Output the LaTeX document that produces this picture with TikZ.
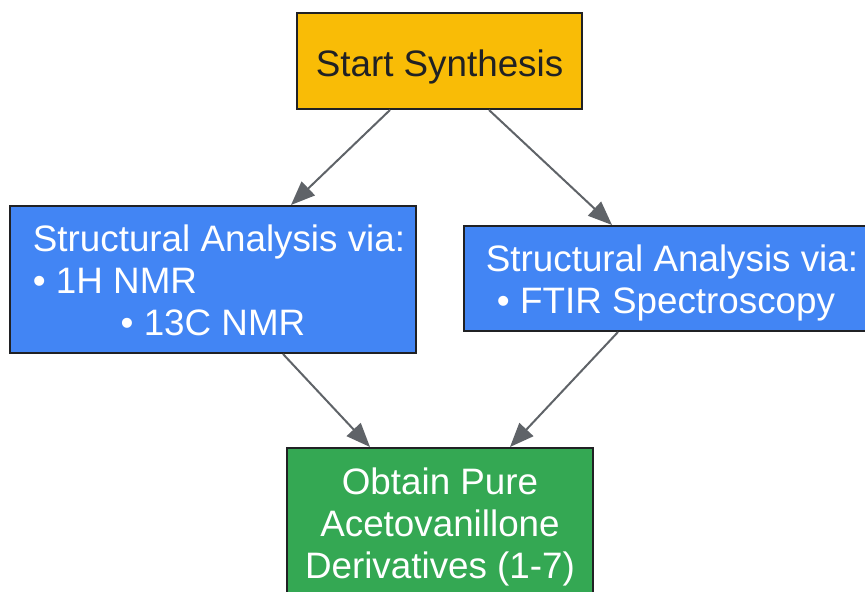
\documentclass[tikz,border=0pt]{standalone}
\usepackage{fontspec}
\setmainfont{Liberation Sans}
\usepackage{tikz}
\usetikzlibrary{arrows.meta, positioning}
\definecolor{startyellow}{HTML}{F9BC06}
\definecolor{analysisblue}{HTML}{4285F4}
\definecolor{resultgreen}{HTML}{34A853}
\definecolor{edgegray}{HTML}{5F6368}
\definecolor{inkdark}{HTML}{202124}
\newcommand{\lowtext}[1]{\raisebox{-3pt}[\height][\depth]{#1}}

\begin{document}
\begin{tikzpicture}[x=0.5pt, y=-0.5pt,
    box/.style={draw=inkdark, line width=1pt, inner sep=0pt, font=\fontsize{18.4}{21}\selectfont},
    flowarrow/.style={-{Triangle[length=12pt, width=9.5pt]}, line width=1pt, draw=edgegray, fill=edgegray}]
    \useasboundingbox (0,0) rectangle (865,592);

    % Start and analysis blocks
    \node[box, fill=startyellow, text=inkdark, minimum width=142.5pt, minimum height=48pt] (start) at (439.5,61)
      {\lowtext{Start Synthesis}};
    \node[box, fill=analysisblue, text=white, minimum width=203pt, minimum height=73.5pt] (nmr) at (213,279.5)
      {\lowtext{\begin{tabular}{@{\hspace{6pt}}l@{}}Structural Analysis via:\\ • 1H NMR\\ \multicolumn{1}{@{}c@{}}{• 13C NMR}\end{tabular}}};
    \node[box, fill=analysisblue, text=white, minimum width=202pt, minimum height=52.5pt] (ftir) at (666,278.5)
      {\lowtext{\begin{tabular}{@{}c@{}}\hspace{6pt}Structural Analysis via:\\ • FTIR Spectroscopy\end{tabular}}};

    % Result block
    \node[box, fill=resultgreen, text=white, minimum width=153pt, minimum height=74pt] (pure) at (440,522)
      {\lowtext{\begin{tabular}{@{}c@{}}Obtain Pure\\ Acetovanillone\\ Derivatives (1-7)\end{tabular}}};

    % Arrows between blocks
    \draw[flowarrow] ([xshift=-24.75pt]start.south) -- ([xshift=39pt]nmr.north);
    \draw[flowarrow] ([xshift=24.75pt]start.south) -- ([xshift=-27pt]ftir.north);
    \draw[flowarrow] ([xshift=35pt]nmr.south) -- ([xshift=-35pt]pure.north);
    \draw[flowarrow] ([xshift=-24pt]ftir.south) -- ([xshift=35pt]pure.north);
\end{tikzpicture}
\end{document}
